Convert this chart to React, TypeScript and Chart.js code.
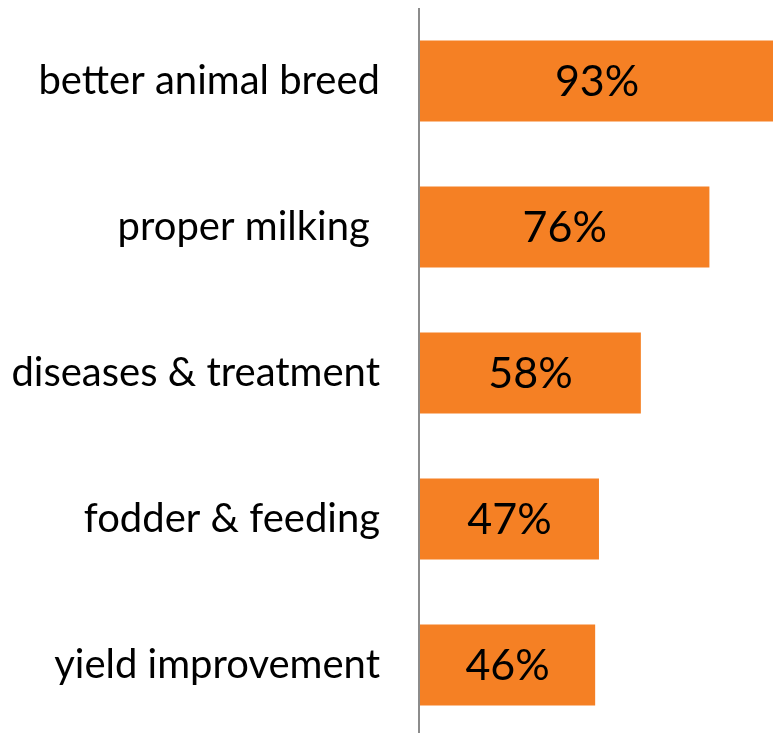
import React, { useEffect, useRef } from "react";
import { Chart, registerables } from "chart.js";

Chart.register(...registerables);

const categories = [
  "better animal breed",
  "proper milking ",
  "diseases & treatment",
  "fodder & feeding",
  "yield improvement",
];
const values = [93, 76, 58, 47, 46];
const valueLabels = ["93%", "76%", "58%", "47%", "46%"];

const FONT = "Lato, 'Open Sans', sans-serif";

const barLabelPlugin = {
  id: "barLabels",
  afterDatasetsDraw(chart: any) {
    const ctx = chart.ctx;
    const meta = chart.getDatasetMeta(0);
    ctx.save();
    ctx.font = `43px ${FONT}`;
    ctx.fillStyle = "#000000";
    ctx.textAlign = "center";
    ctx.textBaseline = "middle";
    meta.data.forEach((bar: any, i: number) => {
      const cx = (bar.base + bar.x) / 2;
      ctx.fillText(valueLabels[i], cx, bar.y + 1);
    });
    ctx.restore();
  },
};

const axisLinePlugin = {
  id: "axisLine",
  afterDraw(chart: any) {
    const ctx = chart.ctx;
    const { left, bottom } = chart.chartArea;
    ctx.save();
    ctx.strokeStyle = "#8c8c8c";
    ctx.lineWidth = 2;
    ctx.beginPath();
    ctx.moveTo(left - 1, 8);
    ctx.lineTo(left - 1, bottom + 10);
    ctx.stroke();
    ctx.restore();
  },
};

export default function App() {
  const ref = useRef<HTMLCanvasElement | null>(null);
  useEffect(() => {
    if (!ref.current) return;
    const chart = new Chart(ref.current, {
      type: "bar",
      data: {
        labels: categories,
        datasets: [
          {
            data: values,
            backgroundColor: "#F58024",
            borderWidth: 0,
            categoryPercentage: 1,
            barPercentage: 0.555,
          },
        ],
      },
      options: {
        indexAxis: "y",
        responsive: false,
        animation: false,
        layout: { padding: { top: 8, right: 0, bottom: 0, left: 0 } },
        plugins: { legend: { display: false }, tooltip: { enabled: false } },
        scales: {
          x: {
            display: false,
            min: 0,
            max: 92.7,
          },
          y: {
            afterFit(scale: any) {
              scale.width = 420;
              scale.paddingTop = 0;
              scale.paddingBottom = 0;
            },
            grid: { display: false, drawTicks: false },
            border: { display: false },
            ticks: {
              color: "#000000",
              font: { family: FONT, size: 40 },
              padding: 40,
            },
          },
        },
      },
      plugins: [barLabelPlugin, axisLinePlugin],
    });
    return () => chart.destroy();
  }, []);
  return (
    <div
      style={{
        position: "fixed",
        left: 0,
        top: 0,
        width: 773,
        height: 733,
        overflow: "hidden",
        background: "#ffffff",
      }}
    >
      <canvas ref={ref} width={773} height={738} style={{ display: "block" }} />
    </div>
  );
}
